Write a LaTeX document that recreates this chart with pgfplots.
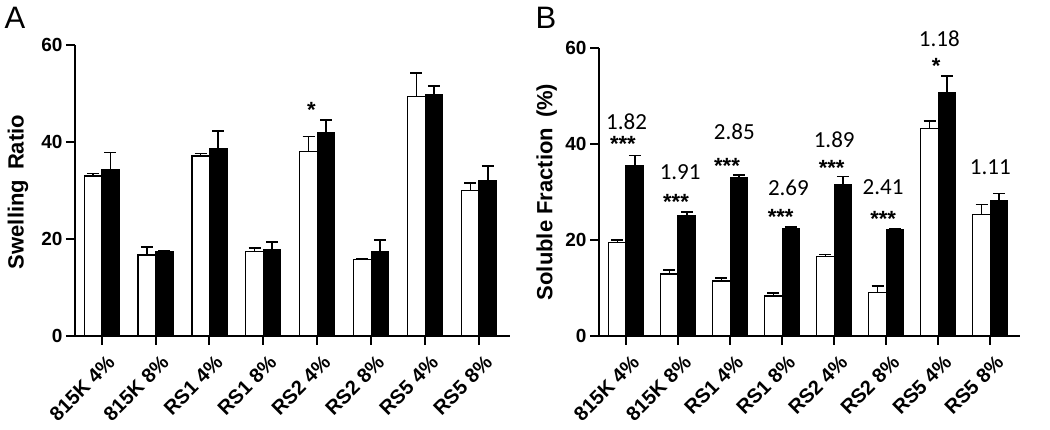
\documentclass[border=0pt]{standalone}
\usepackage{pgfplots}
\pgfplotsset{compat=1.18}
\usepackage{fontspec}
\setmainfont{Liberation Sans}
\newfontfamily\calibri{Carlito}

\pgfplotsset{
 mystyle/.style={
  scale only axis,
  axis x line*=bottom, axis y line*=left,
  axis line style={line width=2pt, -},
  ymin=0, ymax=60, ytick={0,20,40,60},
  xtick={0,...,7},
  xticklabels={815K 4\%, 815K 8\%, RS1 4\%, RS1 8\%, RS2 4\%, RS2 8\%, RS5 4\%, RS5 8\%},
  tick align=outside, major tick length=9pt,
  tick style={line width=2pt, black},
  ybar=0pt, bar width=17.5pt,
  /pgf/number format/assume math mode=true,
  yticklabel style={font=\bfseries\fontsize{19}{19}\selectfont},
  xticklabel style={font=\bfseries\fontsize{20}{20}\selectfont, rotate=45, anchor=east, xshift=0pt, yshift=-17pt},
  error bars/y dir=plus, error bars/y explicit,
  error bars/error bar style={line width=1.5pt, black},
  error bars/error mark options={rotate=90, mark size=6pt, line width=1.5pt, black},
  clip=false,
 },
 wbar/.style={fill=white, draw=black, line width=1.2pt},
 bbar/.style={fill=black, draw=black, line width=1.2pt},
}

\begin{document}
\begin{tikzpicture}
\path[use as bounding box] (0,0) rectangle (1050pt,430pt);

% Panel A
\begin{axis}[mystyle, at={(75pt,94pt)}, anchor=south west,
  width=435pt, height=291pt, xmin=-0.495, xmax=7.575]
\addplot[wbar] coordinates {
 (0,33.0) +- (0,0.5)
 (1,16.7) +- (0,1.7)
 (2,37.1) +- (0,0.5)
 (3,17.5) +- (0,0.6)
 (4,38.0) +- (0,3.1)
 (5,15.7) +- (0,0.2)
 (6,49.3) +- (0,4.9)
 (7,30.0) +- (0,1.5)
};
\addplot[bbar] coordinates {
 (0,34.4) +- (0,3.4)
 (1,17.3) +- (0,0.2)
 (2,38.6) +- (0,3.7)
 (3,17.9) +- (0,1.5)
 (4,41.9) +- (0,2.6)
 (5,17.4) +- (0,2.4)
 (6,49.8) +- (0,1.7)
 (7,32.1) +- (0,2.9)
};
\node[font=\bfseries\fontsize{22}{22}\selectfont, yshift=-4pt] at (axis cs:3.89,47.5) {*};
\end{axis}

% Panel B
\begin{axis}[mystyle, at={(599pt,94.3pt)}, anchor=south west,
  width=421pt, height=287.4pt, xmin=-0.519, xmax=7.57]
\addplot[wbar] coordinates {
 (0,19.4) +- (0,0.6)
 (1,12.9) +- (0,0.8)
 (2,11.4) +- (0,0.6)
 (3,8.3) +- (0,0.6)
 (4,16.6) +- (0,0.4)
 (5,9.1) +- (0,1.3)
 (6,43.2) +- (0,1.6)
 (7,25.3) +- (0,2.1)
};
\addplot[bbar] coordinates {
 (0,35.5) +- (0,2.1)
 (1,25.1) +- (0,0.7)
 (2,33.0) +- (0,0.5)
 (3,22.3) +- (0,0.4)
 (4,31.5) +- (0,1.7)
 (5,22.1) +- (0,0.3)
 (6,50.7) +- (0,3.5)
 (7,28.3) +- (0,1.4)
};
\begin{scope}[every node/.style={font=\calibri\fontsize{23}{23}\selectfont}]
\node at (axis cs:0.01,44.7) {1.82};
\node at (axis cs:1.04,34.2) {1.91};
\node at (axis cs:2.08,42.6) {2.85};
\node at (axis cs:3.12,30.8) {2.69};
\node at (axis cs:4.0,40.9) {1.89};
\node at (axis cs:4.94,31.1) {2.41};
\node at (axis cs:6.02,61.9) {1.18};
\node at (axis cs:7.0,35.1) {1.11};
\end{scope}
\begin{scope}[every node/.style={font=\bfseries\fontsize{22}{22}\selectfont, yshift=-4pt}]
\node at (axis cs:-0.06,40.9) {***};
\node at (axis cs:0.96,28.7) {***};
\node at (axis cs:1.94,36.3) {***};
\node at (axis cs:2.97,25.6) {***};
\node at (axis cs:3.95,35.8) {***};
\node at (axis cs:4.94,25.2) {***};
\node at (axis cs:5.96,57.2) {*};
\end{scope}
\end{axis}

\node[rotate=90, font=\bfseries\fontsize{22}{22}\selectfont] at (18pt,238pt) {Swelling\hspace{0.45em}Ratio};
\node[rotate=90, font=\bfseries\fontsize{22}{22}\selectfont] at (546.7pt,238pt) {Soluble Fraction\hspace{0.45em}(\%)};
\node[font=\fontsize{31}{31}\selectfont] at (15pt,412pt) {A};
\node[font=\fontsize{31}{31}\selectfont] at (546pt,412pt) {B};
\end{tikzpicture}
\end{document}
